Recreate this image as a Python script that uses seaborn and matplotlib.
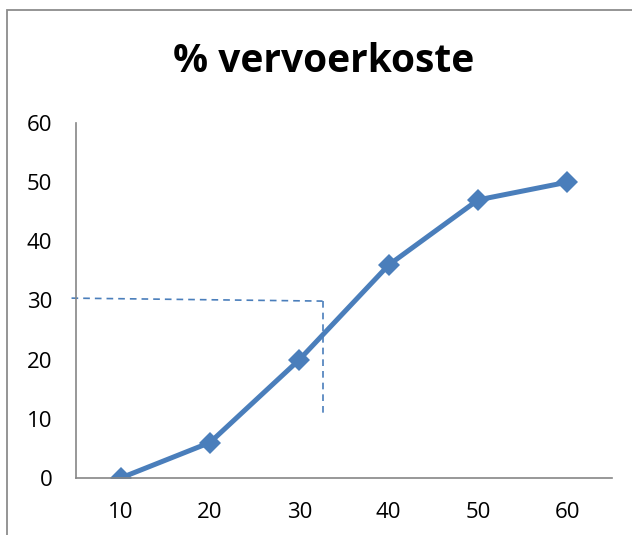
import matplotlib
matplotlib.use("Agg")
import matplotlib.pyplot as plt
import seaborn as sns
import pandas as pd
from matplotlib.patches import Rectangle

# Data
afstand = [10, 20, 30, 40, 50, 60]
persentasie = [0, 6, 20, 36, 47, 50]
y_ticks = [0, 10, 20, 30, 40, 50, 60]

# Reading guide: 30 %
guide_level_top = 30.4
guide_level = 29.9
guide_afstand = 32.6
guide_drop_to = 10.3

line_color = "#4A7EBB"
axis_color = "#868686"

sns.set_theme(style="white")
plt.rcParams["font.family"] = ["Open Sans", "DejaVu Sans"]

fig = plt.figure(figsize=(6.32, 5.35), dpi=100)
ax = fig.add_axes([76 / 632, 1 - 478 / 535, (612 - 76) / 632, (478 - 123) / 535])

df = pd.DataFrame({"afstand": [str(a) for a in afstand], "persentasie": persentasie})
sns.lineplot(data=df, x="afstand", y="persentasie", ax=ax, color=line_color,
             linewidth=3.6, marker="D", markersize=11, markeredgewidth=0,
             sort=False)

ax.set_xlim(-0.5, len(afstand) - 0.5)
ax.set_ylim(0, 60)
ax.set_yticks(y_ticks)
ax.set_yticklabels([str(t) for t in y_ticks])
ax.set_xlabel("")
ax.set_ylabel("")
ax.tick_params(axis="both", length=0, labelsize=16, colors="black")
ax.tick_params(axis="y", pad=17)
ax.tick_params(axis="x", pad=17)

for side in ("top", "right"):
    ax.spines[side].set_visible(False)
for side in ("left", "bottom"):
    ax.spines[side].set_color(axis_color)
    ax.spines[side].set_linewidth(1.2)

# Dashed guide: across from the value axis, then down
def cat_pos(v):
    return (v - afstand[0]) / (afstand[1] - afstand[0])

gx = cat_pos(guide_afstand)
ax.plot([-0.55, gx], [guide_level_top, guide_level], color=line_color,
        linestyle=(0, (4, 3)), linewidth=1.2, clip_on=False)
ax.plot([gx, gx], [guide_level, guide_drop_to], color=line_color,
        linestyle=(0, (4, 3)), linewidth=1.2, clip_on=False)

fig.text(324 / 632, 1 - 61 / 535, "% vervoerkoste", ha="center", va="center",
         fontsize=28, fontweight="bold", color="black")

# Chart-area frame
fig.patches.append(Rectangle((7 / 632, -0.1), 1.2, 1 - 10 / 535 + 0.1,
                             transform=fig.transFigure, fill=False,
                             edgecolor="#8C8C8C", linewidth=1.3))

fig.savefig("out.png", dpi=100)
